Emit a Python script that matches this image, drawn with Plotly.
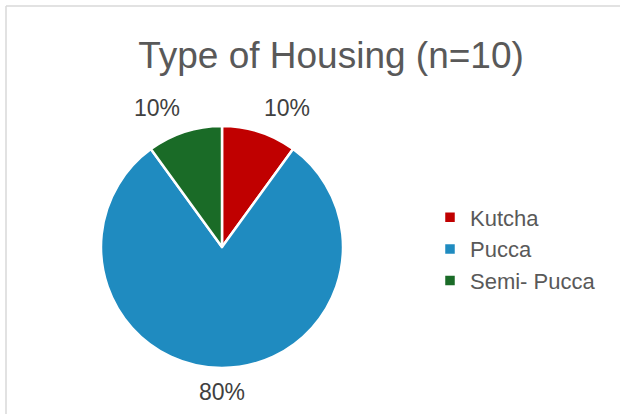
import math
import plotly.graph_objects as go

categories = ["Kutcha", "Pucca", "Semi- Pucca"]
values = [1, 8, 1]
colors = ["#C00000", "#1F8BC0", "#1A6B27"]
title_text = "Type of Housing (n=10)"

W, H = 620, 414
cx, cy, r = 222, 247, 121
label_gap = 9

fig = go.Figure(go.Pie(
    labels=categories,
    values=values,
    sort=False,
    direction="clockwise",
    rotation=0,
    marker=dict(colors=colors, line=dict(color="white", width=2.5)),
    textinfo="none",
    domain=dict(x=[(cx - r) / W, (cx + r) / W], y=[1 - (cy + r) / H, 1 - (cy - r) / H]),
    hoverinfo="label+percent",
))

# percentage labels placed outside each slice, derived from the values
total = sum(values)
annotations = []
cum = 0
for v in values:
    mid = (cum + v / 2) / total * 2 * math.pi
    cum += v
    s, c = math.sin(mid), math.cos(mid)
    R = r + label_gap
    xa = "left" if s > 0.1 else ("right" if s < -0.1 else "center")
    ya = "bottom" if c > 0.1 else ("top" if c < -0.1 else "middle")
    annotations.append(dict(
        x=(cx + s * R) / W, y=1 - (cy - c * R) / H, xref="paper", yref="paper",
        text=f"{round(100 * v / total)}%", showarrow=False, xanchor=xa, yanchor=ya,
        font=dict(family="Liberation Sans, Arial", size=23, color="#404040"),
    ))

fig.update_layout(
    width=W, height=H,
    margin=dict(l=0, r=0, t=0, b=0),
    paper_bgcolor="white",
    plot_bgcolor="white",
    title=dict(text=title_text, x=331 / W, xanchor="center", y=1 - 55 / H, yanchor="middle",
               font=dict(family="Liberation Sans, Arial", size=37, color="#595959")),
    legend=dict(x=430 / W, xanchor="left", y=1 - 249 / H, yanchor="middle",
                font=dict(family="Liberation Sans, Arial", size=22, color="#595959"),
                itemwidth=30,
                bgcolor="rgba(0,0,0,0)"),
    annotations=annotations,
    shapes=[
        dict(type="line", xref="paper", yref="paper", x0=6 / W, x1=6 / W, y0=0, y1=1 - 6 / H,
             line=dict(color="#D9D9D9", width=1.5)),
        dict(type="line", xref="paper", yref="paper", x0=6 / W, x1=1, y0=1 - 6 / H, y1=1 - 6 / H,
             line=dict(color="#D9D9D9", width=1.5)),
    ],
)

fig.write_html(
    "out.html",
    config={"displayModeBar": False},
    post_script="document.body.style.margin='0';document.body.style.overflow='hidden';",
)
